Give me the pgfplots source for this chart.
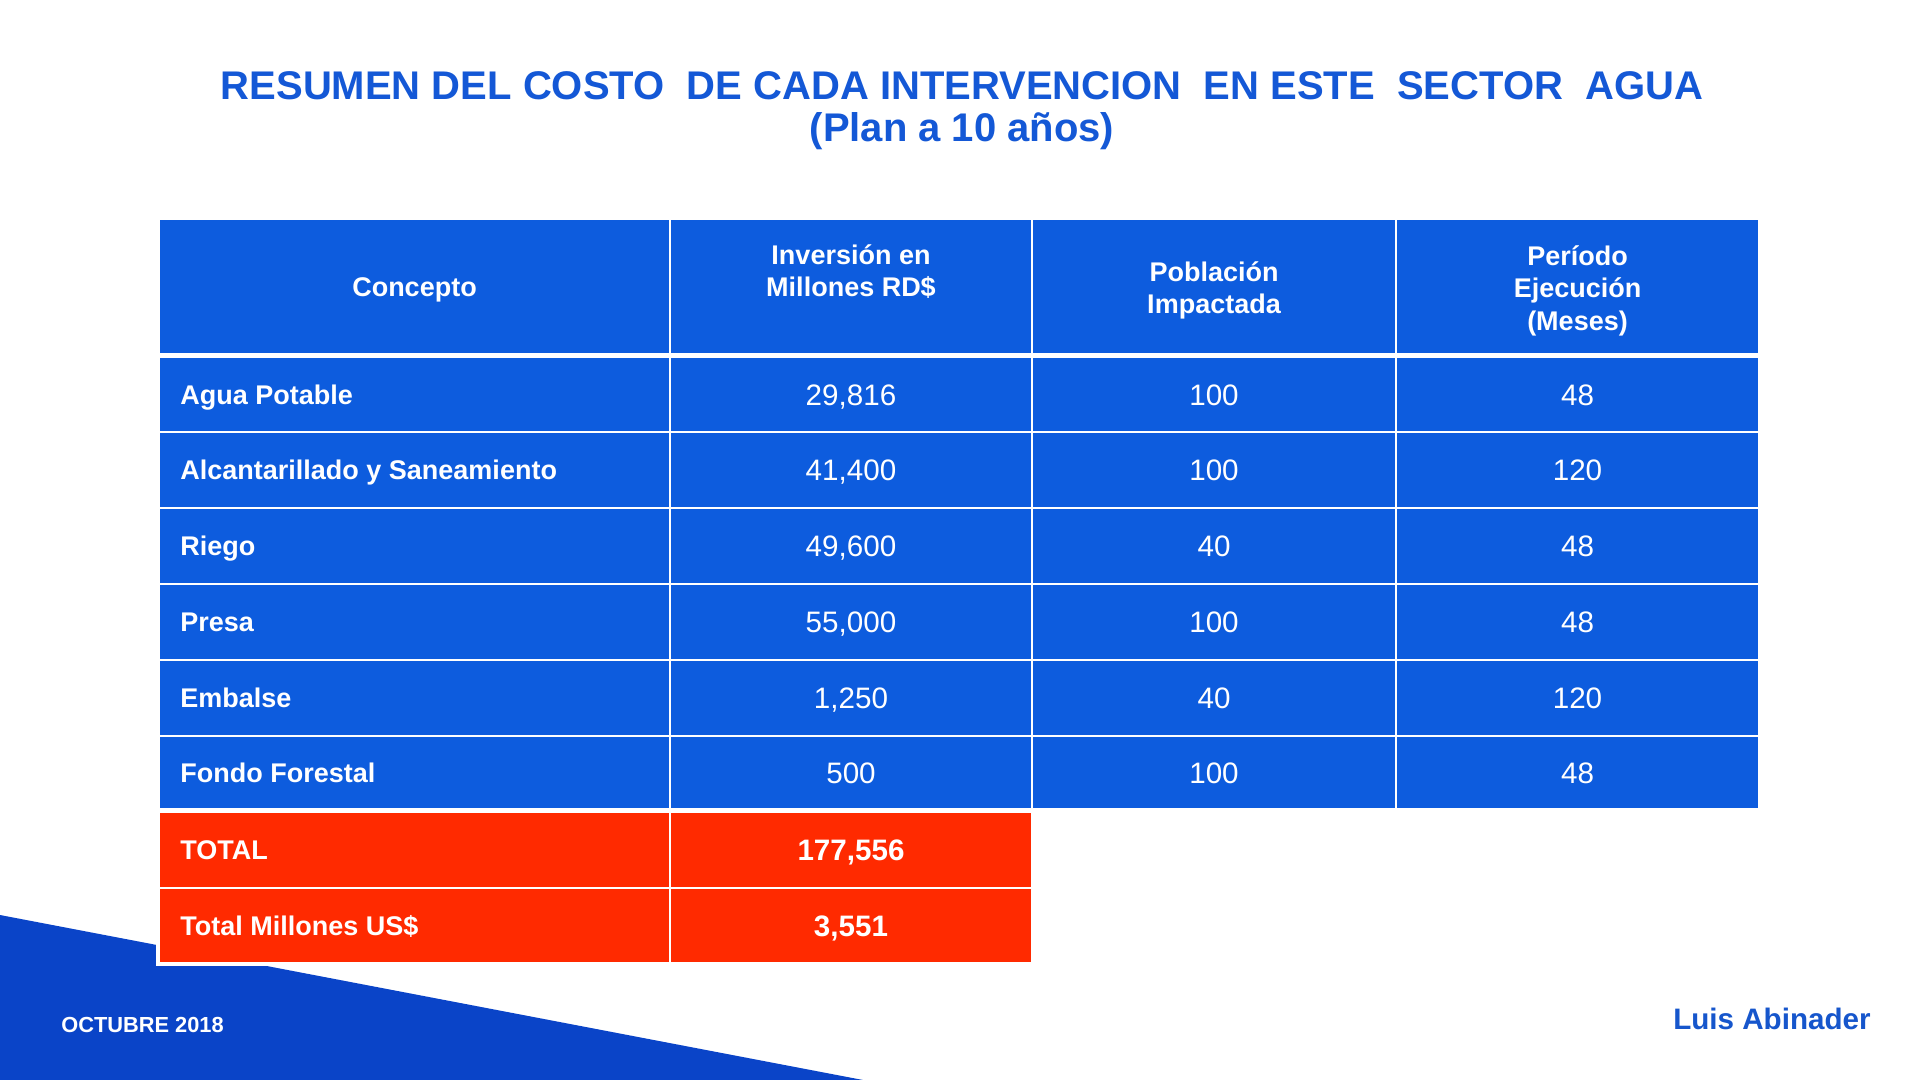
\documentclass[border=0pt]{standalone}
\usepackage{pgfplots}
\pgfplotsset{compat=1.18}
\usepackage{pgfplotstable}
\usepackage{fontspec}
\setmainfont{Liberation Sans}
\definecolor{tblue}{RGB}{13,92,222}
\definecolor{tred}{RGB}{255,42,0}
\definecolor{ttitle}{RGB}{20,88,214}
\definecolor{shape}{RGB}{10,68,200}
\definecolor{sign}{RGB}{22,86,204}

\pgfplotstableread[col sep=semicolon]{
y;concepto;inversion;poblacion;periodo
394.5;Agua Potable;29,816;100;48
470;Alcantarillado y Saneamiento;41,400;100;120
546;Riego;49,600;40;48
622;Presa;55,000;100;48
698;Embalse;1,250;40;120
772.5;Fondo Forestal;500;100;48
}\datatable

\pgfplotstableread[col sep=semicolon]{
y;concepto;inversion
850;TOTAL;177,556
925.5;Total Millones US\$;3,551
}\totaltable

\newcommand{\cell}[5]{\addplot[fill=#5, draw=none, forget plot] coordinates {(#1,#2) (#3,#2) (#3,#4) (#1,#4)} -- cycle;}

\begin{document}
\begin{tikzpicture}
\begin{axis}[scale only axis, width=960pt, height=540pt,
  xmin=0, xmax=1920, ymin=0, ymax=1080, y dir=reverse,
  hide axis, clip=false]
% background
\cell{0}{0}{1920}{1080}{white}
% bottom-left shape
\addplot[fill=shape, draw=none, forget plot] coordinates {(0,915) (863,1080) (0,1080)} -- cycle;
% white backing behind total rows
\cell{156}{810}{1035}{966}{white}
% header
\cell{160}{220}{669}{353}{tblue}
\cell{671}{220}{1031}{353}{tblue}
\cell{1033}{220}{1395}{353}{tblue}
\cell{1397}{220}{1758}{353}{tblue}
% body rows
\pgfplotsinvokeforeach{{358/431},{433/507},{509/583},{585/659},{661/735},{737/808}}{
  \pgfplotsforeachungrouped \a/\b in {#1}{
  \edef\tmp{\noexpand\cell{160}{\a}{669}{\b}{tblue}
  \noexpand\cell{671}{\a}{1031}{\b}{tblue}
  \noexpand\cell{1033}{\a}{1395}{\b}{tblue}
  \noexpand\cell{1397}{\a}{1758}{\b}{tblue}}\tmp}
}
% total rows
\cell{160}{813}{669}{887}{tred}
\cell{671}{813}{1031}{887}{tred}
\cell{160}{889}{669}{962}{tred}
\cell{671}{889}{1031}{962}{tred}

% body text
\addplot[draw=none, mark=none, nodes near coords, point meta=explicit symbolic,
  nodes near coords style={anchor=base west, yshift=-4.9pt, text=white, font=\fontsize{13.5}{16}\selectfont\bfseries, inner sep=0pt}]
  table[x expr=180, y=y, meta=concepto] {\datatable};
\addplot[draw=none, mark=none, nodes near coords, point meta=explicit symbolic,
  nodes near coords style={anchor=base, yshift=-5.3pt, text=white, font=\fontsize{14.8}{17}\selectfont, inner sep=0pt}]
  table[x expr=851, y=y, meta=inversion] {\datatable};
\addplot[draw=none, mark=none, nodes near coords, point meta=explicit symbolic,
  nodes near coords style={anchor=base, yshift=-5.3pt, text=white, font=\fontsize{14.8}{17}\selectfont, inner sep=0pt}]
  table[x expr=1214, y=y, meta=poblacion] {\datatable};
\addplot[draw=none, mark=none, nodes near coords, point meta=explicit symbolic,
  nodes near coords style={anchor=base, yshift=-5.3pt, text=white, font=\fontsize{14.8}{17}\selectfont, inner sep=0pt}]
  table[x expr=1577.5, y=y, meta=periodo] {\datatable};
\addplot[draw=none, mark=none, nodes near coords, point meta=explicit symbolic,
  nodes near coords style={anchor=base west, yshift=-4.9pt, text=white, font=\fontsize{13.5}{16}\selectfont\bfseries, inner sep=0pt}]
  table[x expr=180, y=y, meta=concepto] {\totaltable};
\addplot[draw=none, mark=none, nodes near coords, point meta=explicit symbolic,
  nodes near coords style={anchor=base, yshift=-5.3pt, text=white, font=\fontsize{14.8}{17}\selectfont\bfseries, inner sep=0pt}]
  table[x expr=851, y=y, meta=inversion] {\totaltable};

% header text
\node[text=white, font=\fontsize{13.5}{16.2}\selectfont\bfseries, anchor=base] at (axis cs:414.5,296.2) {Concepto};
\node[text=white, font=\fontsize{13.5}{16.2}\selectfont\bfseries, align=center] at (axis cs:851,271.8) {Inversión en\\Millones RD\$};
\node[text=white, font=\fontsize{13.5}{16.2}\selectfont\bfseries, align=center] at (axis cs:1214,290.2) {Población\\Impactada};
\node[text=white, font=\fontsize{13.5}{16.2}\selectfont\bfseries, align=center] at (axis cs:1577.5,290.7) {Período\\Ejecución\\(Meses)};

% title
\node[text=ttitle, font=\fontsize{20}{24}\selectfont\bfseries, anchor=base] at (axis cs:962,100) {RESUMEN DEL COSTO\ \ DE CADA INTERVENCION\ \ EN ESTE\ \ SECTOR\ \ AGUA};
\node[text=ttitle, font=\fontsize{20}{24}\selectfont\bfseries, anchor=base] at (axis cs:962,142) {(Plan a 10 años)};

% footer
\node[text=white, font=\fontsize{10.9}{13}\selectfont\bfseries, anchor=west, inner sep=0pt] at (axis cs:61,1025) {OCTUBRE 2018};
\node[text=sign, font=\fontsize{14.8}{17}\selectfont\bfseries, anchor=east, inner sep=0pt] at (axis cs:1871,1019) {Luis Abinader};
\end{axis}
\end{tikzpicture}
\end{document}
